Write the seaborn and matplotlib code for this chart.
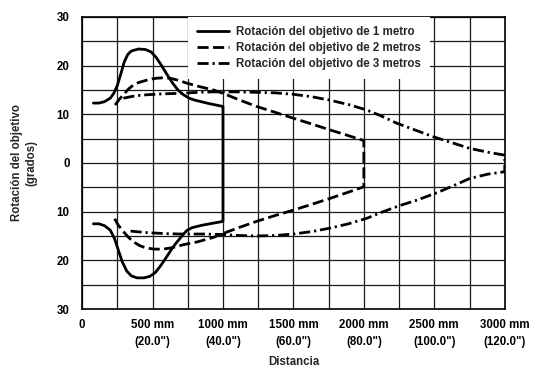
import pandas as pd
import numpy as np
import matplotlib
matplotlib.use('Agg')
import matplotlib.pyplot as plt
import seaborn as sns

# curve readings (distance in mm, rotation in degrees)
r1_x_up = [80, 120, 160, 200, 225, 250, 275, 300, 325, 350, 400, 450, 490, 525, 560, 600, 640, 680, 720, 760, 800, 900, 1000]
r1_y_up = [12.3, 12.3, 12.6, 13.3, 14.3, 15.9, 18.3, 20.8, 22.3, 23.0, 23.4, 23.3, 22.8, 21.7, 20.2, 18.3, 16.5, 15.0, 14.0, 13.3, 12.9, 12.2, 11.6]
r1_x_lo = [80, 120, 160, 200, 230, 257, 285, 317, 350, 390, 440, 480, 520, 553, 600, 647, 700, 742, 780, 850, 1000]
r1_y_lo = [-12.5, -12.5, -12.9, -13.8, -15.5, -17.9, -20.3, -22.2, -23.2, -23.6, -23.6, -23.3, -22.5, -21.3, -19.3, -17.2, -15.3, -13.9, -13.3, -12.8, -12.0]

r2_x_up = [234, 265, 293, 330, 364, 400, 435, 480, 530, 580, 624, 680, 742, 830, 931, 1000, 1120, 1239, 1370, 1498, 1630, 1758, 1880, 2000]
r2_y_up = [11.9, 13.1, 14.0, 15.2, 16.0, 16.5, 16.8, 17.2, 17.4, 17.5, 17.4, 17.0, 16.4, 15.7, 15.0, 14.3, 12.9, 11.6, 10.4, 9.2, 8.0, 6.8, 5.7, 4.6]
r2_x_lo = [222, 255, 293, 330, 364, 410, 458, 520, 576, 640, 718, 820, 931, 1000, 1120, 1239, 1370, 1498, 1630, 1758, 1880, 2000]
r2_y_lo = [-11.0, -12.7, -14.1, -15.3, -16.2, -17.0, -17.5, -17.7, -17.7, -17.4, -16.8, -16.2, -15.3, -14.5, -13.2, -12.0, -10.8, -9.7, -8.5, -7.3, -6.1, -4.9]

r3_x_up = [293, 380, 458, 580, 695, 820, 931, 1100, 1239, 1370, 1498, 1630, 1758, 1890, 2018, 2120, 2231, 2360, 2491, 2620, 2751, 2880, 3000]
r3_y_up = [13.3, 13.8, 14.0, 14.2, 14.3, 14.5, 14.6, 14.6, 14.5, 14.4, 14.1, 13.6, 12.9, 12.0, 10.9, 9.7, 8.2, 6.8, 5.4, 4.2, 3.0, 2.2, 1.6]
r3_x_lo = [317, 380, 458, 580, 695, 850, 1002, 1120, 1239, 1370, 1498, 1630, 1758, 1890, 2018, 2120, 2240, 2380, 2520, 2650, 2751, 2880, 3000]
r3_y_lo = [-13.9, -14.1, -14.3, -14.5, -14.6, -14.6, -14.7, -14.9, -15.0, -14.9, -14.6, -14.1, -13.4, -12.5, -11.4, -10.2, -8.9, -7.6, -6.1, -4.5, -3.2, -2.3, -1.8]

labels = ['Rotación del objetivo de 1 metro',
          'Rotación del objetivo de 2 metros',
          'Rotación del objetivo de 3 metros']
x_ticks = [0, 500, 1000, 1500, 2000, 2500, 3000]
x_tick_labels = ['0', '500 mm\n(20.0")', '1000 mm\n(40.0")', '1500 mm\n(60.0")',
                 '2000 mm\n(80.0")', '2500 mm\n(100.0")', '3000 mm\n(120.0")']
y_ticks = [-30, -20, -10, 0, 10, 20, 30]
y_tick_labels = ['30', '20', '10', '0', '10', '20', '30']

FS = 8.3


def build_frame():
    parts = []
    curves = [(r1_x_up, r1_y_up, r1_x_lo, r1_y_lo),
              (r2_x_up, r2_y_up, r2_x_lo, r2_y_lo),
              (r3_x_up, r3_y_up, r3_x_lo, r3_y_lo)]
    for lab, (xu, yu, xl, yl) in zip(labels, curves):
        # upper branch out, lower branch back: closes with the vertical drop
        xs = list(xu) + list(xl)[::-1]
        ys = list(yu) + list(yl)[::-1]
        parts.append(pd.DataFrame({'dist': xs, 'rot': ys, 'serie': lab,
                                   'orden': range(len(xs))}))
    return pd.concat(parts, ignore_index=True)


def main():
    sns.set_style('white')
    plt.rcParams['font.family'] = ['Liberation Sans', 'DejaVu Sans']
    plt.rcParams['font.weight'] = 'bold'
    plt.rcParams['font.size'] = FS

    df = build_frame()

    fig = plt.figure(figsize=(5.33, 3.67), dpi=100)
    ax = fig.add_axes([0.154, 0.158, 0.793, 0.796])

    dashes = {labels[0]: '', labels[1]: (4, 1.6), labels[2]: (4, 1.4, 0.8, 1.4)}
    sns.lineplot(data=df, x='dist', y='rot', style='serie', dashes=dashes,
                 color='black', linewidth=2.0, sort=False, estimator=None,
                 units='serie', ax=ax)

    ax.set_xlim(0, 3000)
    ax.set_ylim(-30, 30)
    ax.set_xticks(np.arange(0, 3001, 250), minor=True)
    ax.set_yticks(np.arange(-30, 31, 5), minor=True)
    ax.set_xticks(x_ticks)
    ax.set_xticklabels(x_tick_labels, linespacing=1.55)
    ax.set_yticks(y_ticks)
    ax.set_yticklabels(y_tick_labels)
    ax.tick_params(which='both', length=0, labelsize=FS, colors='black')
    ax.tick_params(axis='x', pad=7)
    ax.tick_params(axis='y', pad=9)
    ax.grid(True, which='both', color='#1a1a1a', linewidth=0.9)
    ax.set_axisbelow(True)
    for s in ax.spines.values():
        s.set_color('black')
        s.set_linewidth(1.2)

    ax.set_xlabel('Distancia', fontsize=FS, fontweight='bold', labelpad=6)
    ax.set_ylabel('Rotación del objetivo\n(grados)', fontsize=FS,
                  fontweight='bold', labelpad=14)

    handles, labs = ax.get_legend_handles_labels()
    leg = ax.legend(handles, labs, loc='upper left', bbox_to_anchor=(0.25, 1.0),
                    frameon=True, fancybox=False, framealpha=1, edgecolor='none',
                    facecolor='white', fontsize=FS, handlelength=2.8,
                    handletextpad=0.6, labelspacing=0.35, borderaxespad=0,
                    borderpad=0.8)
    leg.get_frame().set_linewidth(0)

    fig.savefig('out.png', dpi=100)
    plt.close(fig)


if __name__ == "__main__":
    main()
